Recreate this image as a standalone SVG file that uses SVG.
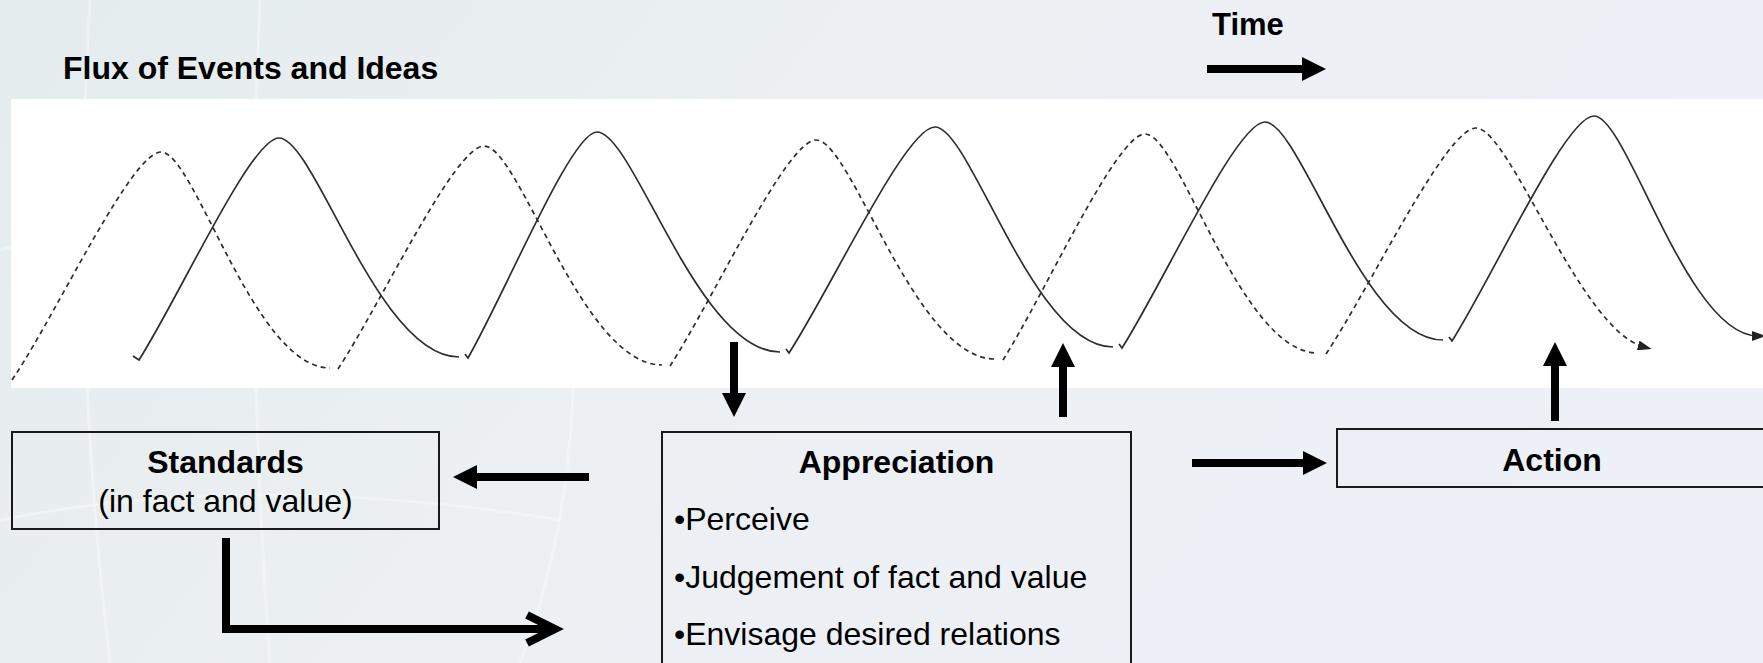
<svg xmlns="http://www.w3.org/2000/svg" width="1763" height="663" viewBox="0 0 1763 663">
  <defs>
    <linearGradient id="bg" x1="0" y1="0" x2="1" y2="0.3">
      <stop offset="0" stop-color="#e4ecee"/>
      <stop offset="0.5" stop-color="#ecf0f3"/>
      <stop offset="1" stop-color="#edf0f7"/>
    </linearGradient>
    <marker id="head" markerUnits="userSpaceOnUse" viewBox="0 0 24 24" markerWidth="24" markerHeight="24" refX="4" refY="12" orient="auto">
      <path d="M0,0 L24,12 L0,24 z" fill="#000"/>
    </marker>
    <marker id="wavehead" markerUnits="userSpaceOnUse" viewBox="0 0 14 10" markerWidth="14" markerHeight="10" refX="6" refY="5" orient="auto">
      <path d="M0,0 L14,5 L0,10 z" fill="#222"/>
    </marker>
    <style>
      .t { font-family: "Liberation Sans", Arial, Helvetica, sans-serif; fill: #000; }
      .b { font-weight: bold; }
      .box { fill: none; stroke: #1a1a1a; stroke-width: 2; }
      .arr { fill: none; stroke: #000; stroke-width: 8; marker-end: url(#head); }
      .solid { fill: none; stroke: #2e2e2e; stroke-width: 1.7; }
      .dash { fill: none; stroke: #2e2e2e; stroke-width: 1.7; stroke-dasharray: 5 4; }
      .tex { fill: none; stroke: #ffffff; stroke-opacity: 0.35; stroke-width: 3; }
    </style>
  </defs>

  <!-- background -->
  <rect x="0" y="0" width="1763" height="663" fill="url(#bg)"/>
  <g id="texture">
    <path class="tex" d="M0,250 Q300,180 620,230"/>
    <path class="tex" d="M0,520 Q250,470 560,520"/>
    <path class="tex" d="M90,0 Q70,330 110,663"/>
    <path class="tex" d="M260,0 Q245,330 270,663"/>
    <path class="tex" d="M560,200 Q600,450 520,663"/>
  </g>

  <!-- flux band -->
  <g id="flux">
    <rect x="11" y="99" width="1760" height="289" fill="#ffffff"/>
    <path class="dash" d="M12,380 L16,374 C59.5,307.4 132,152 161,152 C194.8,152 254,368 330,368 M338,369 C381.8,302.1 454.8,146 484,146 C519.6,146 581.9,365 662,365 M670,366 C713.8,298.2 786.8,140 816,140 C851.8,140 914.5,359 995,359 M1003,360 C1045.6,292.2 1116.6,134 1145,134 C1179.6,134 1240.2,353 1318,353 M1326,354 C1371,286.2 1446,128 1476,128 C1509.6,128 1580,330 1644,347" marker-end="url(#wavehead)"/>
    <path class="solid" d="M133,356 L139,360 C181,293.4 251,138 279,138 C315,138 378,357 459,357 M465,354 L468,358 C506.7,290.2 571.2,132 597,132 C633.6,132 697.7,352 780,352 M786,349 L789,353 C832.8,285.2 905.8,127 935,127 C970.6,127 1032.9,347 1113,347 M1119,344 L1122,348 C1164.9,280.2 1236.4,122 1265,122 C1300.6,122 1362.9,340 1443,340 M1449,337 L1452,341 C1494.6,273.5 1565.6,116 1594,116 C1627.6,116 1686.4,336 1758,336" marker-end="url(#wavehead)"/>
  </g>

  <!-- titles -->
  <g id="title-flux">
    <text class="t b" x="63" y="79" font-size="32">Flux of Events and Ideas</text>
  </g>
  <g id="title-time">
    <text class="t b" x="1212" y="35" font-size="31">Time</text>
  </g>

  <!-- nodes -->
  <g id="standards">
    <rect class="box" x="12" y="432" width="427" height="97"/>
    <text class="t b" x="225.5" y="473" font-size="32" text-anchor="middle">Standards</text>
    <text class="t" x="225.5" y="512" font-size="32" text-anchor="middle">(in fact and value)</text>
  </g>
  <g id="appreciation">
    <rect class="box" x="662" y="432" width="469" height="250"/>
    <text class="t b" x="896.5" y="473" font-size="32" text-anchor="middle">Appreciation</text>
    <text class="t" x="674" y="530" font-size="32">•Perceive</text>
    <text class="t" x="674" y="588" font-size="32">•Judgement of fact and value</text>
    <text class="t" x="674" y="645" font-size="32">•Envisage desired relations</text>
  </g>
  <g id="action">
    <rect class="box" x="1337" y="429" width="440" height="58"/>
    <text class="t b" x="1552" y="471" font-size="32" text-anchor="middle">Action</text>
  </g>

  <!-- connectors -->
  <g id="connectors">
    <path class="arr" d="M1207,69 H1306"/>
    <path class="arr" d="M589,477 H473"/>
    <path class="arr" d="M734,342 V397"/>
    <path class="arr" d="M1063,417 V363"/>
    <path class="arr" d="M1192,463 H1307"/>
    <path class="arr" d="M1555,421 V362"/>
    <path d="M226,538 V629 H554 M527,615 L555,629 L527,643" fill="none" stroke="#000" stroke-width="8" stroke-linejoin="miter" stroke-linecap="butt"/>
  </g>
</svg>
